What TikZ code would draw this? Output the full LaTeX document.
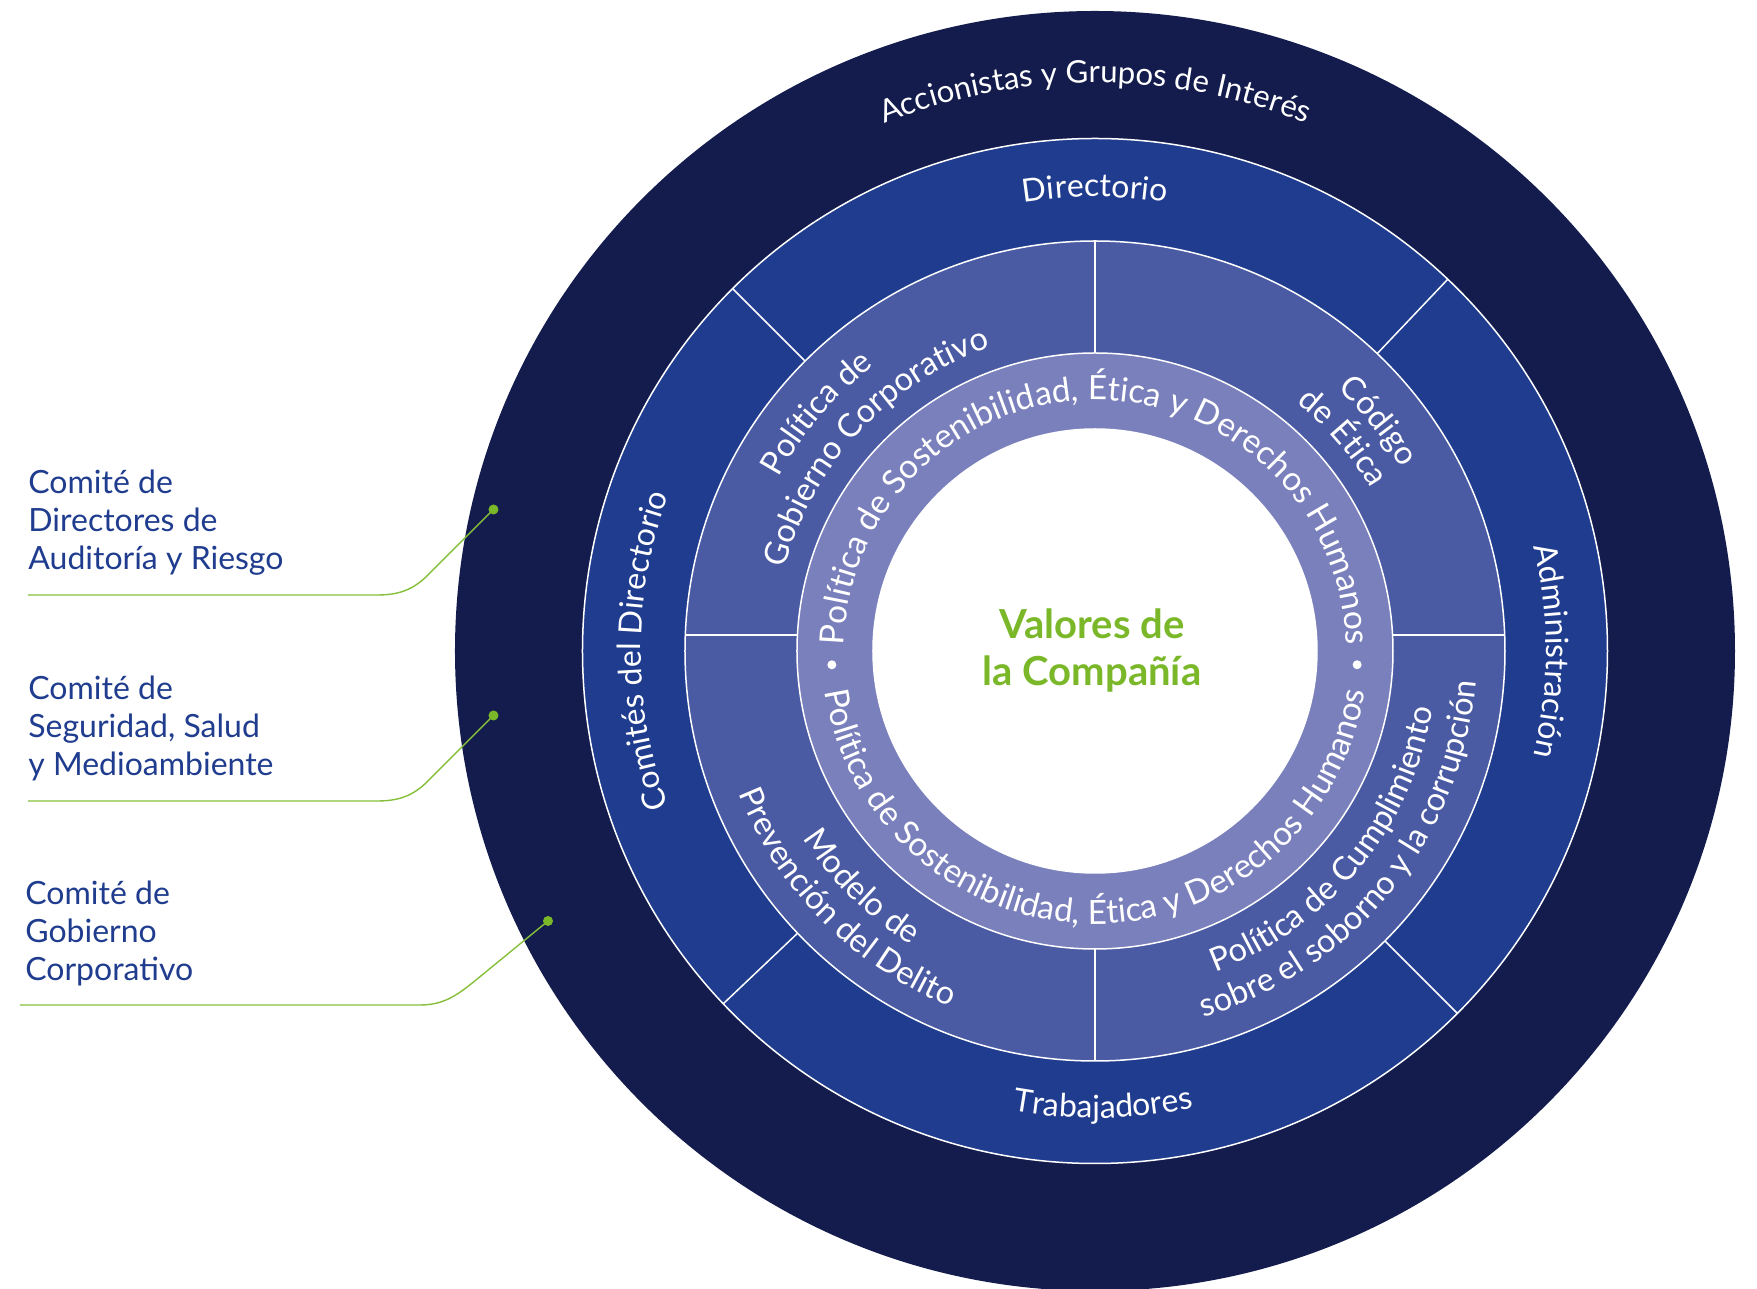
\documentclass[tikz,border=0pt]{standalone}
\usepackage{fontspec}
\setmainfont{Lato}
\usetikzlibrary{decorations.text}
\definecolor{outerc}{HTML}{131C4C}
\definecolor{ringb}{HTML}{1F3C8E}
\definecolor{ringc}{HTML}{4B5BA3}
\definecolor{ringd}{HTML}{7A80BB}
\definecolor{valgreen}{HTML}{7AB82A}
\definecolor{linegreen}{HTML}{86C03A}
\definecolor{comblue}{HTML}{1F3C8E}
% clockwise text (letters point outward): [size] centre angle, baseline radius, half span, text
\newcommand{\cwtext}[5][16]{%
  \path[decorate, decoration={text along path, text align=center, text color=white,
    text={|\fontsize{#1}{19}\selectfont|#5}}]
    (#2+#4:#3) arc[start angle=#2+#4, end angle=#2-#4, radius=#3];}
% counter-clockwise text (letters point inward)
\newcommand{\ccwtext}[5][16]{%
  \path[decorate, decoration={text along path, text align=center, text color=white,
    text={|\fontsize{#1}{19}\selectfont|#5}}]
    (#2-#4:#3) arc[start angle=#2-#4, end angle=#2+#4, radius=#3];}
\begin{document}
\begin{tikzpicture}[x=0.5pt,y=0.5pt,
  sep/.style={draw=white, line width=0.75pt},
  comm/.style={anchor=base west, inner sep=0pt, text=comblue, font=\fontsize{16}{19}\selectfont},
  leader/.style={linegreen, line width=0.7pt},
  dotc/.style={valgreen}]
\useasboundingbox (-1095,-638) rectangle (662,651);
\clip (-1095,-638) rectangle (662,651);
% rings
\fill[outerc] (0,0) circle[radius=640];
\filldraw[sep, fill=ringb] (0,0) circle[radius=512.5];
\filldraw[sep, fill=ringc] (0,0) circle[radius=410];
\foreach \a in {135,46.5,223.5,-45} \draw[sep] (\a:410) -- (\a:512.5);
\draw[sep] (0,298) -- (0,410) (0,-298) -- (0,-410)
  (-297.6,16) -- (-409.7,16) (297.6,16) -- (409.7,16);
\filldraw[sep, fill=ringd] (0,0) circle[radius=298];
\filldraw[sep, fill=white] (0,0) circle[radius=222];
% outer ring
\cwtext[15.6]{90}{568}{60}{Accionistas y Grupos de Interés}
% ring 2
\cwtext{90}{454}{60}{Directorio}
\cwtext{0}{451}{60}{Administración}
\cwtext{180}{454}{60}{Comités del Directorio}
\ccwtext{-89}{467}{60}{Trabajadores}
% ring 3
\cwtext[16.3]{139.5}{361}{80}{Política de}
\cwtext[16.3]{137}{321}{80}{Gobierno Corporativo}
\cwtext[16.3]{39}{357}{80}{Código}
\cwtext[16.3]{40.7}{320}{80}{de Ética}
\ccwtext[16.3]{225.3}{347}{80}{Modelo de}
\ccwtext[16.3]{224.8}{384}{80}{Prevención del Delito}
\ccwtext[16.3]{-39.5}{343}{80}{Política de Cumplimiento}
\ccwtext[16.3]{-39}{382}{80}{sobre el soborno y la corrupción}
% ring 4
\cwtext[16.7]{90}{251}{100}{Política de Sostenibilidad, Ética y Derechos Humanos}
\ccwtext[16.7]{270}{273}{100}{Política de Sostenibilidad, Ética y Derechos Humanos}
\fill[white] (183:263.5) circle[radius=4.5];
\fill[white] (-3:262.5) circle[radius=4.5];
% centre
\node[anchor=base, inner sep=0pt, text=valgreen, font=\fontsize{20}{23.5}\selectfont\bfseries] (val) at (-3,12)
  {\begin{tabular}[t]{@{}c@{}}Valores de\\la Compañía\end{tabular}};
% committees
\node[comm] (c1) at (-1067,157) {\begin{tabular}[t]{@{}l@{}}Comité de\\Directores de\\Auditoría y Riesgo\end{tabular}};
\node[comm] (c2) at (-1067,-49) {\begin{tabular}[t]{@{}l@{}}Comité de\\Seguridad, Salud\\y Medioambiente\end{tabular}};
\node[comm] (c3) at (-1070,-254) {\begin{tabular}[t]{@{}l@{}}Comité de\\Gobierno\\Corporativo\end{tabular}};
\coordinate (c1s) at (-1067,56); \coordinate (c1h) at (-718,56);
\coordinate (c1b) at (-667,76);  \coordinate (c1d) at (-601.5,141.5);
\coordinate (c2s) at (-1067,-150); \coordinate (c2h) at (-718,-150);
\coordinate (c2b) at (-667,-130);  \coordinate (c2d) at (-601.5,-64.5);
\coordinate (c3s) at (-1075,-354); \coordinate (c3h) at (-675,-354);
\coordinate (c3b) at (-619,-329);  \coordinate (c3d) at (-547,-270);
\draw[leader] (c1s) -- (c1h) to[out=0,in=225] (c1b) -- (c1d);
\draw[leader] (c2s) -- (c2h) to[out=0,in=225] (c2b) -- (c2d);
\draw[leader] (c3s) -- (c3h) to[out=0,in=219] (c3b) -- (c3d);
\fill[dotc] (c1d) circle[radius=5];
\fill[dotc] (c2d) circle[radius=5];
\fill[dotc] (c3d) circle[radius=5];
\end{tikzpicture}
\end{document}
